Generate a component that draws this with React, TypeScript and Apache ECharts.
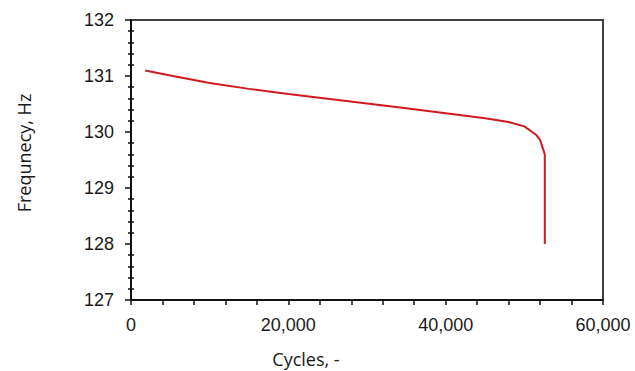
import React, { useEffect, useRef } from "react";
import * as echarts from "echarts";

// Resonance frequency of the specimen over the fatigue test
const cycles = [1800, 5000, 10000, 15000, 20000, 25000, 30000, 35000, 40000, 45000, 48000, 50000, 51000, 51500, 52000, 52600, 52600];
const frequency = [131.1, 131.01, 130.875, 130.77, 130.68, 130.595, 130.51, 130.425, 130.335, 130.245, 130.18, 130.1, 130.0, 129.95, 129.86, 129.6, 128.0];

const xTitle = "Cycles, -";
const yTitle = "Frequnecy, Hz";

const fmt = (v: number) => v.toLocaleString("en-US");

export default function App() {
  const ref = useRef<HTMLDivElement>(null);

  useEffect(() => {
    if (!ref.current) return;
    const chart = echarts.init(ref.current, null, { renderer: "svg" });
    const labelFont = { fontFamily: "Liberation Sans", fontSize: 18, color: "#1a1a1a" };
    const titleFont = { fontFamily: "Open Sans", fontSize: 18, fill: "#1a1a1a" };
    chart.setOption({
      animation: false,
      backgroundColor: "#ffffff",
      grid: {
        left: 131,
        right: 32,
        top: 20,
        bottom: 71,
        show: true,
        borderColor: "#404040",
        borderWidth: 2,
      },
      xAxis: {
        type: "value",
        min: 0,
        max: 60000,
        interval: 20000,
        axisLine: { show: true, onZero: false, lineStyle: { color: "#111", width: 2 } },
        axisTick: { show: true, length: 5, lineStyle: { color: "#111", width: 1.5 } },
        minorTick: { show: true, splitNumber: 5, length: 5, lineStyle: { color: "#111", width: 1.5 } },
        splitLine: { show: false },
        axisLabel: { ...labelFont, margin: 16, formatter: (v: number) => fmt(v) },
      },
      yAxis: [
        {
          type: "value",
          position: "left",
          min: 127,
          max: 132,
          interval: 1,
          axisLine: { show: true, onZero: false, lineStyle: { color: "#111", width: 2 } },
          axisTick: { show: true, length: 6, lineStyle: { color: "#111", width: 1.5 } },
          minorTick: { show: true, splitNumber: 5, length: 3, lineStyle: { color: "#111", width: 1.5 } },
          splitLine: { show: false },
          axisLabel: { ...labelFont, margin: 17 },
        },
        {
          // inner half of the minor ticks, so they cross the axis line
          type: "value",
          position: "left",
          offset: 0,
          min: 127,
          max: 132,
          interval: 1,
          axisLine: { show: false },
          axisTick: { show: false, inside: true },
          minorTick: { show: true, splitNumber: 5, length: 3, lineStyle: { color: "#111", width: 1.5 } },
          splitLine: { show: false },
          axisLabel: { show: false },
        },
      ],
      series: [
        {
          type: "line",
          data: cycles.map((c, i) => [c, frequency[i]]),
          showSymbol: false,
          smooth: false,
          lineStyle: { color: "#d11a1f", width: 2 },
        },
      ],
      graphic: [
        {
          type: "text",
          x: 306,
          y: 359,
          style: { text: xTitle, ...titleFont, textAlign: "center", textVerticalAlign: "middle" },
        },
        {
          type: "text",
          x: 24,
          y: 153,
          rotation: Math.PI / 2,
          style: { text: yTitle, ...titleFont, textAlign: "center", textVerticalAlign: "middle" },
        },
      ],
    });
    return () => chart.dispose();
  }, []);

  return <div ref={ref} style={{ position: "absolute", left: 0, top: 0, width: 635, height: 371 }} />;
}
